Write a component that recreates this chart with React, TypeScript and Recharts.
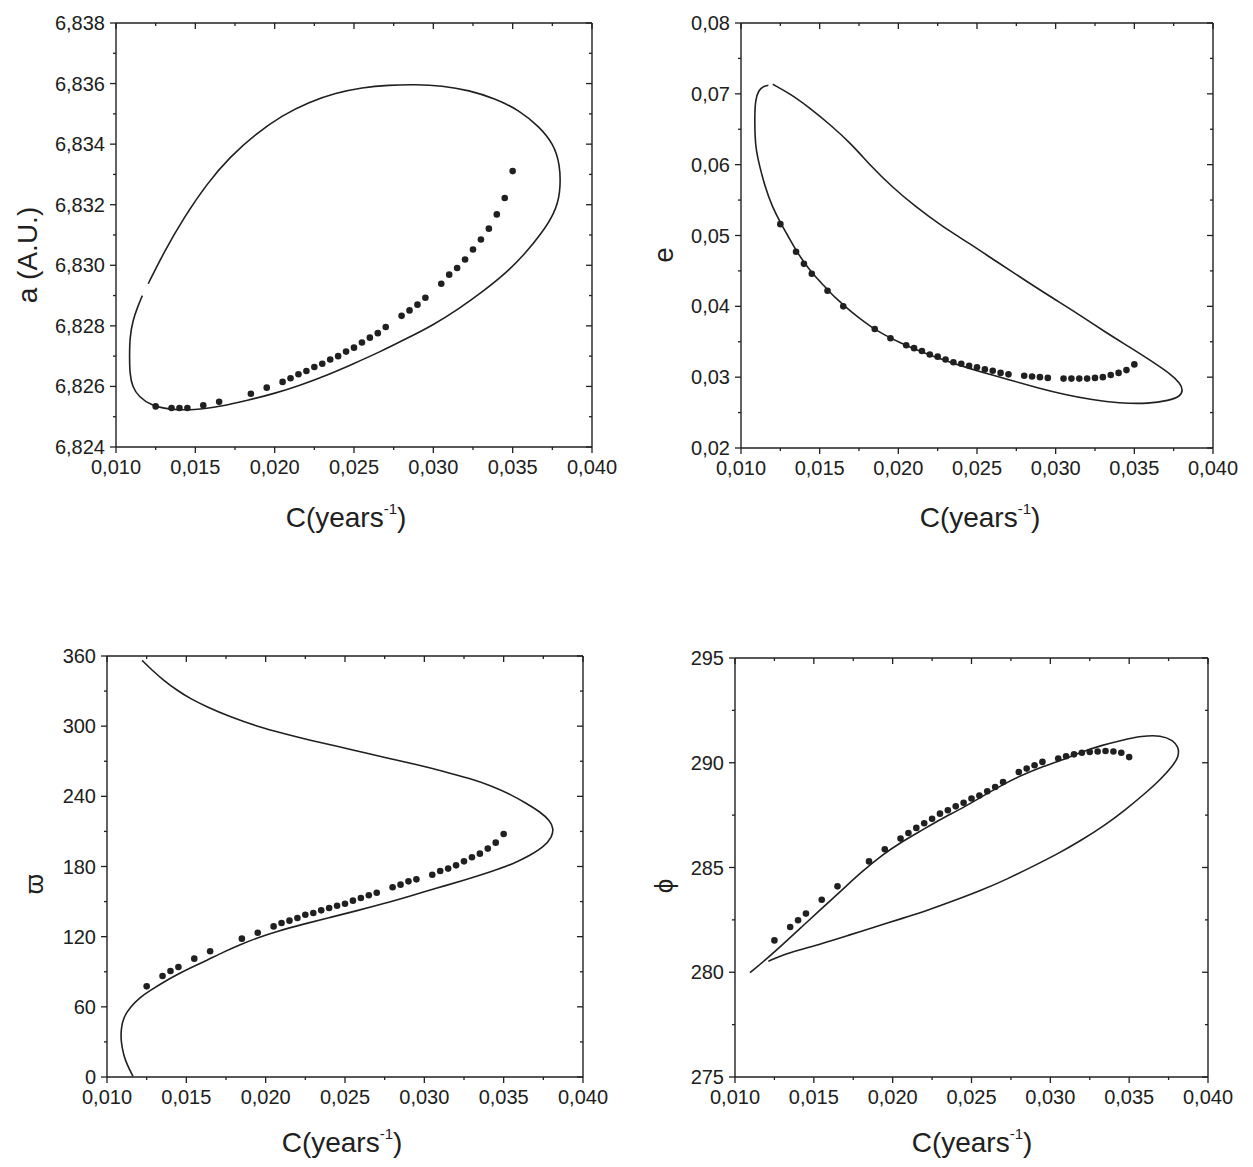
import React from "react";
import { ComposedChart, Line, Scatter, XAxis, YAxis } from "recharts";

const FONT = '"Liberation Sans", Arial, Helvetica, sans-serif';
const INK = "#202020";

// C (years^-1) of the computed points, shared by the four panels
const dotC = [
  0.0125, 0.0135, 0.014, 0.0145, 0.0155, 0.0165, 0.0185, 0.0195, 0.0205, 0.021, 0.0215, 0.022,
  0.0225, 0.023, 0.0235, 0.024, 0.0245, 0.025, 0.0255, 0.026, 0.0265, 0.027, 0.028, 0.0285,
  0.029, 0.0295, 0.0305, 0.031, 0.0315, 0.032, 0.0325, 0.033, 0.0335, 0.034, 0.0345, 0.035,
];
const dotA = [
  6.82534, 6.82529, 6.82529, 6.82529, 6.82538, 6.82549, 6.82576, 6.82596, 6.82615, 6.82627,
  6.8264, 6.82651, 6.82664, 6.82675, 6.82689, 6.827, 6.82715, 6.82728, 6.82745, 6.82761,
  6.82776, 6.82796, 6.82833, 6.82851, 6.8287, 6.82893, 6.82939, 6.82969, 6.82991, 6.83019,
  6.83052, 6.83085, 6.83121, 6.83168, 6.83222, 6.83311,
];
const dotE = [
  0.0516, 0.0477, 0.046, 0.0446, 0.0422, 0.04, 0.0368, 0.0355, 0.0345, 0.0341, 0.0337, 0.0332,
  0.0329, 0.0325, 0.0321, 0.0319, 0.0316, 0.0314, 0.0311, 0.0309, 0.0306, 0.0304, 0.0302,
  0.0301, 0.03, 0.0299, 0.0298, 0.0298, 0.0298, 0.0298, 0.0299, 0.03, 0.0303, 0.0306, 0.031,
  0.0318,
];
const dotVarpi = [
  77.5, 86.4, 90.6, 94.1, 101.2, 107.5, 118.3, 123.4, 128.8, 131.7, 133.7, 136, 138.8, 140.3,
  142.5, 144.5, 146.5, 148.2, 150.8, 153.1, 155.4, 157.6, 162.2, 164.5, 167.3, 169, 173, 176.2,
  178.2, 181, 184.4, 187.9, 191, 195.3, 200.4, 207.8,
];
const dotPhi = [
  281.52, 282.16, 282.48, 282.8, 283.46, 284.1, 285.29, 285.87, 286.38, 286.65, 286.89, 287.11,
  287.33, 287.57, 287.73, 287.92, 288.09, 288.29, 288.44, 288.64, 288.84, 289.08, 289.56,
  289.72, 289.88, 290.04, 290.2, 290.31, 290.4, 290.48, 290.51, 290.54, 290.56, 290.54, 290.48,
  290.27,
];

// solid curves, in drawing order
const curveAC = [
  0.01203, 0.01308, 0.01431, 0.01574, 0.01718, 0.01884, 0.02048, 0.02217, 0.02384, 0.02551,
  0.02719, 0.02887, 0.03055, 0.03224, 0.03393, 0.03541, 0.03669, 0.03755, 0.03799, 0.03802,
  0.03762, 0.0368, 0.03578, 0.03454, 0.03309, 0.03163, 0.02997, 0.02831, 0.02664, 0.02497,
  0.0233, 0.02163, 0.01996, 0.01829, 0.01662, 0.01494, 0.01326, 0.0122, 0.01146, 0.01103,
  0.01087, 0.01085, 0.01087, 0.01106, 0.01136, 0.01166,
];
const curveAV = [
  6.82939, 6.83049, 6.8316, 6.8327, 6.83358, 6.83435, 6.83495, 6.83539, 6.83569, 6.83587,
  6.83595, 6.83597, 6.83593, 6.83578, 6.8355, 6.83512, 6.83457, 6.83402, 6.83336, 6.83236,
  6.8317, 6.83104, 6.83038, 6.82972, 6.82912, 6.82857, 6.82802, 6.82758, 6.82714, 6.82675,
  6.82637, 6.82604, 6.82576, 6.82554, 6.82534, 6.82521, 6.82524, 6.82538, 6.82565, 6.82598,
  6.82642, 6.82697, 6.82763, 6.82818, 6.82862, 6.829,
];
const curveEC = [
  0.01202, 0.01313, 0.01442, 0.01571, 0.01699, 0.0183, 0.01959, 0.02109, 0.02281, 0.02452,
  0.02624, 0.02796, 0.02966, 0.03138, 0.03309, 0.03481, 0.0363, 0.03737, 0.03791, 0.03809,
  0.03793, 0.03719, 0.03592, 0.03401, 0.03232, 0.03061, 0.02891, 0.02721, 0.0255, 0.0238,
  0.02252, 0.02124, 0.02017, 0.0191, 0.01824, 0.01739, 0.01663, 0.0161, 0.01561, 0.01513,
  0.01459, 0.01405, 0.01355, 0.01307, 0.01253, 0.01198, 0.01153, 0.01119, 0.01096, 0.01089,
  0.01087, 0.01091, 0.01111, 0.01143, 0.01174,
];
const curveEV = [
  0.07135, 0.07, 0.06792, 0.06557, 0.06299, 0.0597, 0.05688, 0.05406, 0.05124, 0.04889,
  0.04631, 0.04382, 0.04137, 0.03902, 0.03644, 0.03409, 0.03197, 0.03033, 0.02915, 0.02822,
  0.02728, 0.02671, 0.02624, 0.02633, 0.0268, 0.02751, 0.02845, 0.02953, 0.03056, 0.03174,
  0.03268, 0.03376, 0.03479, 0.03597, 0.03714, 0.03855, 0.03996, 0.041, 0.04208, 0.04325,
  0.04452, 0.04607, 0.04772, 0.0496, 0.05171, 0.05406, 0.05688, 0.0597, 0.06205, 0.06393,
  0.06675, 0.0691, 0.07051, 0.07107, 0.07121,
];
const curveWC = [
  0.01221, 0.01284, 0.01357, 0.01441, 0.01525, 0.0163, 0.01777, 0.01945, 0.02113, 0.02282,
  0.0245, 0.02618, 0.02786, 0.02954, 0.03122, 0.0329, 0.03416, 0.03542, 0.03647, 0.03731,
  0.0379, 0.03815, 0.03805, 0.03752, 0.03668, 0.03563, 0.03416, 0.03248, 0.0308, 0.02912,
  0.02744, 0.02576, 0.02408, 0.0224, 0.02071, 0.01945, 0.0184, 0.01735, 0.0163, 0.01525,
  0.01441, 0.01357, 0.01273, 0.0121, 0.01147, 0.01105, 0.01088, 0.01088, 0.01105, 0.0113,
  0.01164,
];
const curveWV = [
  356.3, 347.8, 339.2, 330.7, 323.5, 316.4, 307.9, 299.9, 293.6, 287.9, 282.8, 277.4, 272.2,
  267.1, 261.4, 255.1, 249.4, 241.7, 233.8, 226.6, 219.5, 212.4, 205.2, 196.7, 189.6, 182.4,
  175.3, 168.2, 161.6, 154.8, 148.2, 142.2, 136.5, 130.8, 124.6, 118.9, 113.2, 106.9, 99.8, 93.2,
  87.5, 81.2, 74.1, 68.4, 59.9, 51.3, 41.3, 29.9, 18.5, 9.4, 0.6,
];
const curvePC = [
  0.01095, 0.0119, 0.01296, 0.01423, 0.01549, 0.01676, 0.01803, 0.0193, 0.02056, 0.02183,
  0.0231, 0.02437, 0.02563, 0.0269, 0.02817, 0.02944, 0.03071, 0.03197, 0.03324, 0.03451,
  0.03578, 0.03704, 0.03778, 0.03814, 0.03814, 0.03778, 0.03704, 0.03599, 0.03472, 0.03345,
  0.03197, 0.03049, 0.02902, 0.02733, 0.02563, 0.02394, 0.02225, 0.02056, 0.01887, 0.01718,
  0.01549, 0.01401, 0.01296, 0.01211,
];
const curvePV = [
  279.98, 280.57, 281.28, 282.16, 283.04, 283.91, 284.79, 285.58, 286.22, 286.77, 287.33,
  287.81, 288.37, 288.92, 289.4, 289.8, 290.12, 290.51, 290.83, 291.07, 291.28, 291.31, 291.07,
  290.75, 290.27, 289.88, 289.24, 288.52, 287.73, 287.01, 286.3, 285.66, 285.1, 284.47, 283.91,
  283.43, 282.96, 282.56, 282.16, 281.76, 281.36, 281.05, 280.81, 280.52,
];

// ticks: even index = labelled major tick, odd index = minor tick
const cTicks = [0.01, 0.0125, 0.015, 0.0175, 0.02, 0.0225, 0.025, 0.0275, 0.03, 0.0325, 0.035, 0.0375, 0.04];
const aTicks = [6.824, 6.825, 6.826, 6.827, 6.828, 6.829, 6.83, 6.831, 6.832, 6.833, 6.834, 6.835, 6.836, 6.837, 6.838];
const eTicks = [0.02, 0.025, 0.03, 0.035, 0.04, 0.045, 0.05, 0.055, 0.06, 0.065, 0.07, 0.075, 0.08];
const varpiTicks = [0, 30, 60, 90, 120, 150, 180, 210, 240, 270, 300, 330, 360];
const phiTicks = [275, 277.5, 280, 282.5, 285, 287.5, 290, 292.5, 295];

const toPts = (cs: number[], vs: number[]) => cs.map((c, i) => ({ c, v: vs[i] }));
const comma = (d: number) => (v: number) => v.toFixed(d).replace(".", ",");

type Side = "left" | "bottom" | "top" | "right";

function tickFor(side: Side, fmt?: (v: number) => string) {
  return (props: any) => {
    const { x, y, payload, index } = props;
    const major = index % 2 === 0;
    const len = major ? 6 : 3;
    let x2 = x;
    let y2 = y;
    if (side === "bottom" || side === "top") y2 = y + len;
    if (side === "left" || side === "right") x2 = x - len;
    let label = null;
    if (major && fmt && side === "bottom") {
      label = (
        <text x={x} y={y + 27} textAnchor="middle" fontSize={20} fill={INK} fontFamily={FONT}>
          {fmt(payload.value)}
        </text>
      );
    }
    if (major && fmt && side === "left") {
      label = (
        <text x={x - 11} y={y + 7} textAnchor="end" fontSize={20} fill={INK} fontFamily={FONT}>
          {fmt(payload.value)}
        </text>
      );
    }
    return (
      <g>
        <line x1={x} y1={y} x2={x2} y2={y2} stroke={INK} strokeWidth={1.3} />
        {label}
      </g>
    );
  };
}

interface Box {
  x: number;
  y: number;
  w: number;
  h: number;
}

interface PanelProps {
  box: Box;
  yDomain: [number, number];
  yTicks: number[];
  yFmt: (v: number) => string;
  curve: { c: number; v: number }[];
  dots: { c: number; v: number }[];
}

function Panel({ box, yDomain, yTicks, yFmt, curve, dots }: PanelProps) {
  const padL = 100;
  const padR = 36;
  const padT = 14;
  const padB = 40;
  const axisLine = { stroke: INK, strokeWidth: 1.4 };
  return (
    <div style={{ position: "absolute", left: box.x - padL, top: box.y - padT }}>
      <ComposedChart
        width={box.w + padL + padR}
        height={box.h + padT + padB}
        margin={{ top: 0, right: 0, bottom: 0, left: 0 }}
      >
        <XAxis
          xAxisId="b"
          orientation="bottom"
          type="number"
          dataKey="c"
          domain={[0.01, 0.04]}
          allowDataOverflow
          ticks={cTicks}
          interval={0}
          height={padB}
          tickSize={0}
          tickMargin={0}
          tickLine={false}
          axisLine={axisLine}
          tick={tickFor("bottom", comma(3))}
        />
        <XAxis
          xAxisId="t"
          orientation="top"
          type="number"
          dataKey="c"
          domain={[0.01, 0.04]}
          allowDataOverflow
          ticks={cTicks}
          interval={0}
          height={padT}
          tickSize={0}
          tickMargin={0}
          tickLine={false}
          axisLine={axisLine}
          tick={tickFor("top")}
        />
        <YAxis
          yAxisId="l"
          orientation="left"
          type="number"
          dataKey="v"
          domain={yDomain}
          allowDataOverflow
          ticks={yTicks}
          interval={0}
          width={padL}
          tickSize={0}
          tickMargin={0}
          tickLine={false}
          axisLine={axisLine}
          tick={tickFor("left", yFmt)}
        />
        <YAxis
          yAxisId="r"
          orientation="right"
          type="number"
          dataKey="v"
          domain={yDomain}
          allowDataOverflow
          ticks={yTicks}
          interval={0}
          width={padR}
          tickSize={0}
          tickMargin={0}
          tickLine={false}
          axisLine={axisLine}
          tick={tickFor("right")}
        />
        <Line
          xAxisId="b"
          yAxisId="l"
          data={curve}
          dataKey="v"
          type="basis"
          stroke={INK}
          strokeWidth={1.6}
          dot={false}
          activeDot={false}
          isAnimationActive={false}
        />
        <Scatter
          xAxisId="b"
          yAxisId="l"
          data={dots}
          dataKey="v"
          isAnimationActive={false}
          shape={(p: any) => <circle cx={p.cx} cy={p.cy} r={3.3} fill={INK} />}
        />
      </ComposedChart>
    </div>
  );
}

function XTitle({ x, y }: { x: number; y: number }) {
  return (
    <text x={x} y={y} textAnchor="middle" fontSize={28} fill={INK} fontFamily={FONT}>
      C(years
      <tspan dy={-13} fontSize={15}>
        -1
      </tspan>
      <tspan dy={13}>)</tspan>
    </text>
  );
}

function YTitle({ x, y, text, size }: { x: number; y: number; text: string; size: number }) {
  return (
    <text
      transform={`translate(${x},${y}) rotate(-90)`}
      textAnchor="middle"
      fontSize={size}
      fill={INK}
      fontFamily={FONT}
    >
      {text}
    </text>
  );
}

export default function App() {
  return (
    <div
      style={{
        position: "absolute",
        left: 0,
        top: 0,
        width: 1253,
        height: 1167,
        background: "#ffffff",
        overflow: "hidden",
      }}
    >
      <Panel
        box={{ x: 116, y: 23, w: 476, h: 424 }}
        yDomain={[6.824, 6.838]}
        yTicks={aTicks}
        yFmt={comma(3)}
        curve={toPts(curveAC, curveAV)}
        dots={toPts(dotC, dotA)}
      />
      <Panel
        box={{ x: 741, y: 23, w: 472, h: 425 }}
        yDomain={[0.02, 0.08]}
        yTicks={eTicks}
        yFmt={comma(2)}
        curve={toPts(curveEC, curveEV)}
        dots={toPts(dotC, dotE)}
      />
      <Panel
        box={{ x: 107, y: 656, w: 476, h: 421 }}
        yDomain={[0, 360]}
        yTicks={varpiTicks}
        yFmt={comma(0)}
        curve={toPts(curveWC, curveWV)}
        dots={toPts(dotC, dotVarpi)}
      />
      <Panel
        box={{ x: 735, y: 658, w: 473, h: 419 }}
        yDomain={[275, 295]}
        yTicks={phiTicks}
        yFmt={comma(0)}
        curve={toPts(curvePC, curvePV)}
        dots={toPts(dotC, dotPhi)}
      />
      <svg
        width={1253}
        height={1167}
        style={{ position: "absolute", left: 0, top: 0, pointerEvents: "none" }}
      >
        <XTitle x={346} y={527} />
        <XTitle x={980} y={527} />
        <XTitle x={342} y={1152} />
        <XTitle x={972} y={1152} />
        <YTitle x={37} y={255} text="a (A.U.)" size={28} />
        <YTitle x={673} y={255} text="e" size={28} />
        <YTitle x={43} y={884} text="ϖ" size={26} />
        <YTitle x={673} y={886} text="ϕ" size={26} />
      </svg>
    </div>
  );
}
